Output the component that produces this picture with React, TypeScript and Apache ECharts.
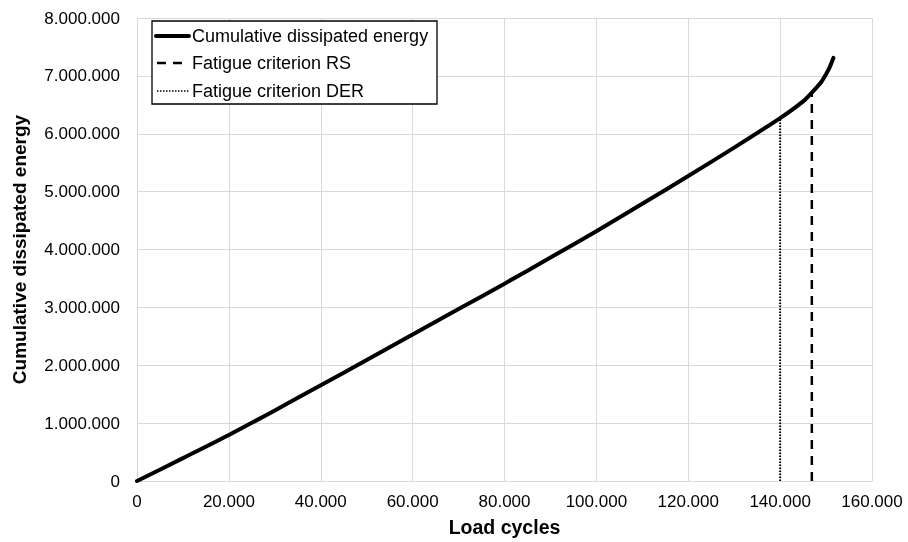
import React, { useEffect, useRef } from "react";
import * as echarts from "echarts";

const cycles = [0, 10000, 20000, 30000, 40000, 50000, 60000, 70000, 80000, 90000, 100000, 110000, 120000, 130000, 140000, 145000, 147000, 149000, 150000, 150800, 151300, 151600];
const energy = [0, 395000, 795000, 1220000, 1655000, 2090000, 2530000, 2970000, 3410000, 3860000, 4315000, 4790000, 5270000, 5760000, 6270000, 6560000, 6720000, 6900000, 7030000, 7150000, 7250000, 7310000];
const rsCycle = 146900;
const rsEnergy = 6720000;
const derCycle = 140000;
const derEnergy = 6270000;
const seriesNames = ["Cumulative dissipated energy", "Fatigue criterion RS", "Fatigue criterion DER"];

const fmt = (v: number) => String(Math.round(v)).replace(/\B(?=(\d{3})+(?!\d))/g, ".");

export default function App() {
  const ref = useRef<HTMLDivElement>(null);
  useEffect(() => {
    const chart = echarts.init(ref.current!, null, { renderer: "svg" });
    const font = "'Liberation Sans', Arial, Helvetica, sans-serif";
    const legX = 152;
    const legY = 21;
    const rowY = [36, 63, 91];
    const dashes: (number[] | null)[] = [null, [9, 7], [1.5, 1.5]];
    const widths = [4, 2.5, 1.5];
    const legendGraphics: any[] = [
      {
        type: "rect",
        shape: { x: legX, y: legY, width: 285, height: 83 },
        style: { fill: "#fff", stroke: "#000", lineWidth: 1.3 },
        z: 10,
      },
    ];
    seriesNames.forEach((n, i) => {
      legendGraphics.push({
        type: "line",
        shape: { x1: i === 0 ? 156 : 157, y1: rowY[i], x2: 189, y2: rowY[i] },
        style: { stroke: "#000", lineWidth: widths[i], lineDash: dashes[i] || undefined, lineCap: i === 0 ? "round" : "butt" },
        z: 11,
      });
      legendGraphics.push({
        type: "text",
        x: 192,
        y: rowY[i],
        style: { text: n, fontSize: 18, fontFamily: font, fill: "#000", verticalAlign: "middle", align: "left" },
        z: 11,
      });
    });
    chart.setOption({
      animation: false,
      textStyle: { fontFamily: font },
      grid: { left: 137, right: 36, top: 18, bottom: 60, containLabel: false },
      legend: { show: false },
      graphic: legendGraphics,
      xAxis: {
        type: "value",
        min: 0,
        max: 160000,
        interval: 20000,
        name: "Load cycles",
        nameLocation: "middle",
        nameGap: 36,
        nameTextStyle: { fontSize: 19.5, fontWeight: "bold", color: "#000", fontFamily: font },
        axisLine: { show: true, lineStyle: { color: "#d9d9d9" } },
        axisTick: { show: false },
        splitLine: { show: true, lineStyle: { color: "#d9d9d9", width: 1 } },
        axisLabel: { fontSize: 17, color: "#000", margin: 12, formatter: (v: number) => fmt(v), fontFamily: font },
      },
      yAxis: {
        type: "value",
        min: 0,
        max: 8000000,
        interval: 1000000,
        name: "Cumulative dissipated energy",
        nameLocation: "middle",
        nameGap: 108,
        nameTextStyle: { fontSize: 19, fontWeight: "bold", color: "#000", fontFamily: font },
        axisLine: { show: true, lineStyle: { color: "#d9d9d9" } },
        axisTick: { show: false },
        splitLine: { show: true, lineStyle: { color: "#d9d9d9", width: 1 } },
        axisLabel: { fontSize: 17, color: "#000", margin: 17, formatter: (v: number) => fmt(v), fontFamily: font },
      },
      series: [
        {
          name: seriesNames[0],
          type: "line",
          data: cycles.map((c, i) => [c, energy[i]]),
          smooth: 0.25,
          showSymbol: false,
          symbol: "none",
          lineStyle: { color: "#000", width: 4, cap: "round" },
          itemStyle: { color: "#000" },
          z: 3,
        },
        {
          name: seriesNames[1],
          type: "line",
          data: [[rsCycle, 0], [rsCycle, rsEnergy]],
          showSymbol: false,
          symbol: "none",
          lineStyle: { color: "#000", width: 2.5, type: [9, 7] },
          itemStyle: { color: "#000" },
        },
        {
          name: seriesNames[2],
          type: "line",
          data: [[derCycle, 0], [derCycle, derEnergy]],
          showSymbol: false,
          symbol: "none",
          lineStyle: { color: "#000", width: 2, type: [1.5, 1.5] },
          itemStyle: { color: "#000" },
        },
      ],
    });
    return () => chart.dispose();
  }, []);
  return <div ref={ref} style={{ width: 908, height: 542, position: "fixed", left: 0, top: 0 }} />;
}
